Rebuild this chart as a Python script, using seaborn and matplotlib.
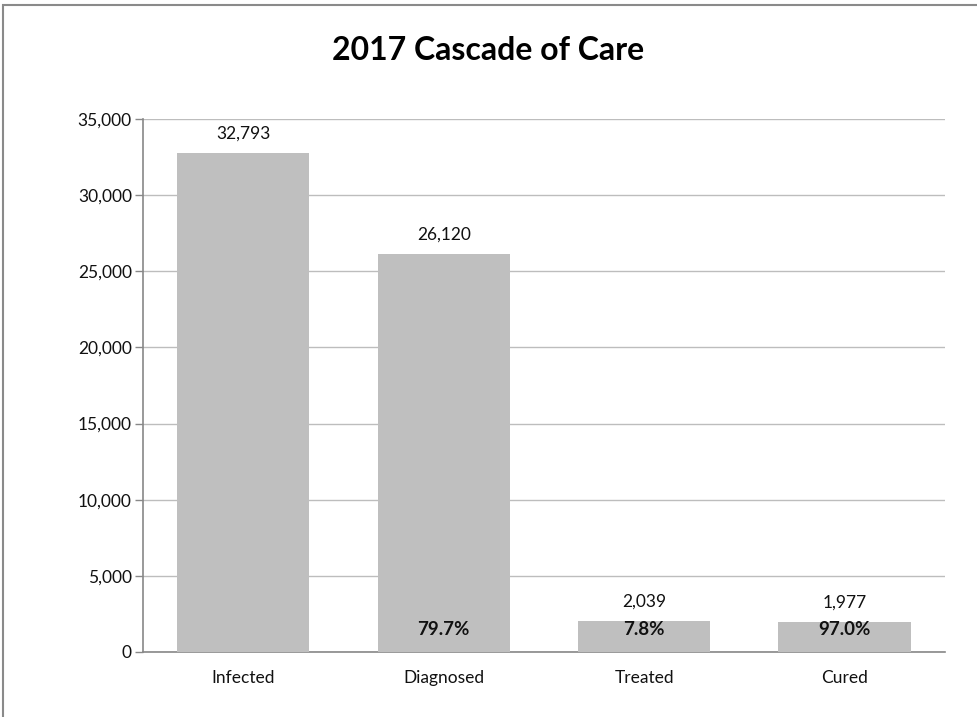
import matplotlib
matplotlib.use("Agg")
import matplotlib.pyplot as plt
import seaborn as sns
import pandas as pd
from matplotlib.patches import Rectangle

categories = ["Infected", "Diagnosed", "Treated", "Cured"]
values = [32793, 26120, 2039, 1977]
value_labels = ["32,793", "26,120", "2,039", "1,977"]
pct_labels = ["", "79.7%", "7.8%", "97.0%"]
yticks = [0, 5000, 10000, 15000, 20000, 25000, 30000, 35000]
ytick_labels = ["0", "5,000", "10,000", "15,000", "20,000", "25,000", "30,000", "35,000"]
title = "2017 Cascade of Care"

sns.set_theme(style="white")
plt.rcParams['font.family'] = ['Lato', 'DejaVu Sans']

df = pd.DataFrame({"cat": categories, "val": values})

fig = plt.figure(figsize=(9.77, 7.17), dpi=100)
ax = fig.add_axes([0.1464, 0.0907, 0.8206, 0.7434])

sns.barplot(data=df, x="cat", y="val", color="#BFBFBF", saturation=1,
            width=0.66, ax=ax, zorder=3, edgecolor="none")

ax.set_ylim(0, 35000)
ax.set_xlim(-0.5, 3.5)
ax.set_yticks(yticks)
ax.set_yticklabels(ytick_labels, fontsize=12.5, color="#111111")
ax.yaxis.grid(True, color="#BDBDBD", linewidth=1, zorder=0)
ax.set_axisbelow(True)
ax.set_xlabel("")
ax.set_ylabel("")

ax.set_xticks(range(len(categories)))
ax.set_xticklabels(categories, fontsize=12.5, color="#111111")
ax.tick_params(axis="x", which="major", length=0, pad=13)
ax.set_xticks([-0.5, 0.5, 1.5, 2.5, 3.5], minor=True)
ax.tick_params(axis="x", which="minor", length=6, color="#888888", width=1, direction="out")
ax.tick_params(axis="y", which="major", length=6, color="#888888", width=1, direction="out", pad=2, left=True)

for s in ["top", "right"]:
    ax.spines[s].set_visible(False)
for s in ["left", "bottom"]:
    ax.spines[s].set_color("#888888")
    ax.spines[s].set_linewidth(1.2)

for i, (v, lab, pct) in enumerate(zip(values, value_labels, pct_labels)):
    ax.annotate(lab, (i, v), xytext=(0, 8), textcoords="offset points",
                ha="center", va="bottom", fontsize=12.5, color="#111111")
    if pct:
        ax.annotate(pct, (i, 0), xytext=(0, 16), textcoords="offset points",
                    ha="center", va="center", fontsize=13.5, fontweight="bold", color="#111111")

fig.text(0.5, 0.93, title, ha="center", va="center", fontsize=23, fontweight="bold", color="#000000")

fig.patches.append(Rectangle((0.003, -0.1), 1.2, 1.093, transform=fig.transFigure,
                             fill=False, edgecolor="#8A8A8A", linewidth=1.5))

fig.savefig("out.png", dpi=100)
